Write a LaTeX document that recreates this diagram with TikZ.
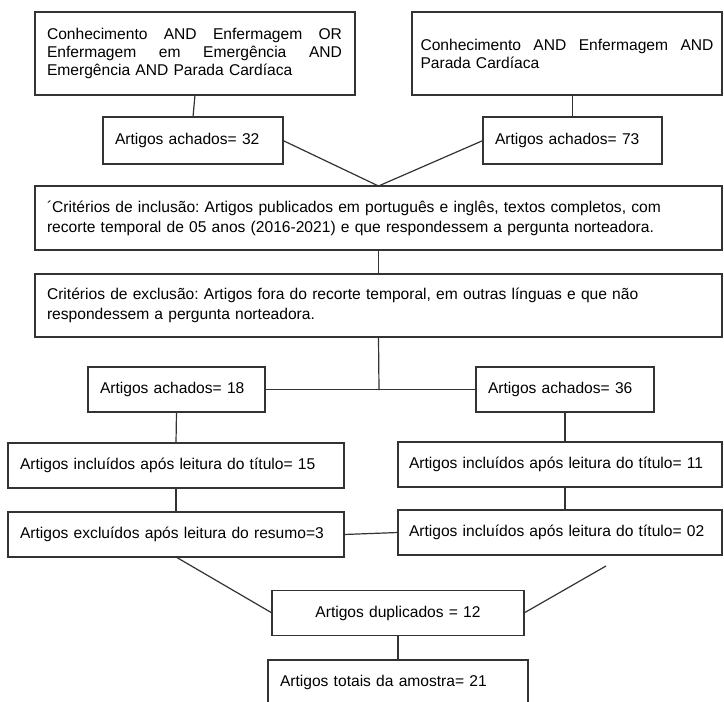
\documentclass[tikz,border=0pt]{standalone}
\usepackage{fontspec}
\setmainfont{Liberation Sans}
\frenchspacing

\newcommand{\linhaj}[2]{\makebox[#1]{#2}}

\begin{document}
\begin{tikzpicture}[x=1pt, y=-1pt, line width=1.2pt,
    caixa/.style={rectangle, draw=black!80, inner xsep=12pt, inner ysep=4pt, outer sep=0pt, align=left, font=\fontsize{15.6}{18.5}\selectfont},
    liga/.style={draw=black!80}]

    \useasboundingbox (0,0) rectangle (724,702);
    \clip (0,0) rectangle (724,702);
    \fill[white] (0,0) rectangle (724,702);

    % Nodes
    \node (b1) [caixa, text width=296pt, minimum height=83pt, font=\fontsize{15.6}{18}\selectfont] at (195,53.5) {\linhaj{295pt}{Conhecimento\hfill AND\hfill Enfermagem\hfill OR}\\\linhaj{295pt}{Enfermagem\hfill em\hfill Emergência\hfill AND}\\Emergência AND Parada Cardíaca\par\vspace{19pt}};
    \node (b2) [caixa, text width=293pt, inner xsep=8.5pt, minimum height=83pt, font=\fontsize{15.6}{18}\selectfont] at (567,53.5) {\linhaj{293pt}{Conhecimento\hfill AND\hfill Enfermagem\hfill AND}\\Parada Cardíaca};
    \node (a32) [caixa, text width=156pt, minimum height=47pt] at (193,140.5) {Artigos achados= 32};
    \node (a73) [caixa, text width=155pt, minimum height=47pt] at (572.5,140.5) {Artigos achados= 73};
    \node (inc) [caixa, text width=663pt, minimum height=64pt, font=\fontsize{15.6}{20}\selectfont] at (378.5,218) {´Critérios de inclusão: Artigos publicados em português e inglês, textos completos, com\\recorte temporal de 05 anos (2016-2021) e que respondessem a pergunta norteadora.};
    \node (exc) [caixa, text width=663pt, minimum height=63pt, font=\fontsize{15.6}{19.5}\selectfont] at (378.5,305.5) {Critérios de exclusão: Artigos fora do recorte temporal, em outras línguas e que não\\respondessem a pergunta norteadora.};
    \node (a18) [caixa, text width=153pt, minimum height=45pt] at (176.5,389.5) {Artigos achados= 18};
    \node (a36) [caixa, text width=154pt, minimum height=45pt] at (565,389.5) {Artigos achados= 36};
    \node (i15) [caixa, text width=312pt, minimum height=45pt] at (176,465.5) {Artigos incluídos após leitura do título= 15};
    \node (i11) [caixa, text width=302pt, inner xsep=11pt, minimum height=45pt] at (560,464.5) {Artigos incluídos após leitura do título= 11};
    \node (e3) [caixa, text width=312pt, minimum height=45pt] at (176,534.5) {Artigos excluídos após leitura do resumo=3};
    \node (i02) [caixa, text width=302pt, inner xsep=11pt, minimum height=45pt] at (560,532.5) {Artigos incluídos após leitura do título= 02};
    \node (dup) [caixa, text width=228pt, minimum height=45pt, align=center] at (398,613) {Artigos duplicados = 12};
    \node (tot) [caixa, text width=236pt, minimum height=44pt] at (398,682) {Artigos totais da amostra= 21};

    % Free ends
    \coordinate (junta) at (379,390);
    \coordinate (solta) at (606,566);

    % Connectors
    \draw [liga] (b1.south) -- (a32.north);
    \draw [liga] (b2.south -| a73.north) -- (a73.north);
    \draw [liga] (a32.east) -- (inc.north) -- (a73.west);
    \draw [liga] (inc.south) -- (exc.north);
    \draw [liga] (exc.south) -- (junta);
    \draw [liga] (a18.east) -- (a36.west);
    \draw [liga] (a18.south) -- (i15.north);
    \draw [liga] (a36.south) -- (a36.south |- i11.north);
    \draw [liga] (i15.south) -- (e3.north);
    \draw [liga] (a36.south |- i11.south) -- (a36.south |- i02.north);
    \draw [liga] (e3.east) -- (i02.west);
    \draw [liga] (e3.south) -- (dup.west);
    \draw [liga] (solta) -- (dup.east);
    \draw [liga] (dup.south) -- (tot.north);

\end{tikzpicture}
\end{document}
